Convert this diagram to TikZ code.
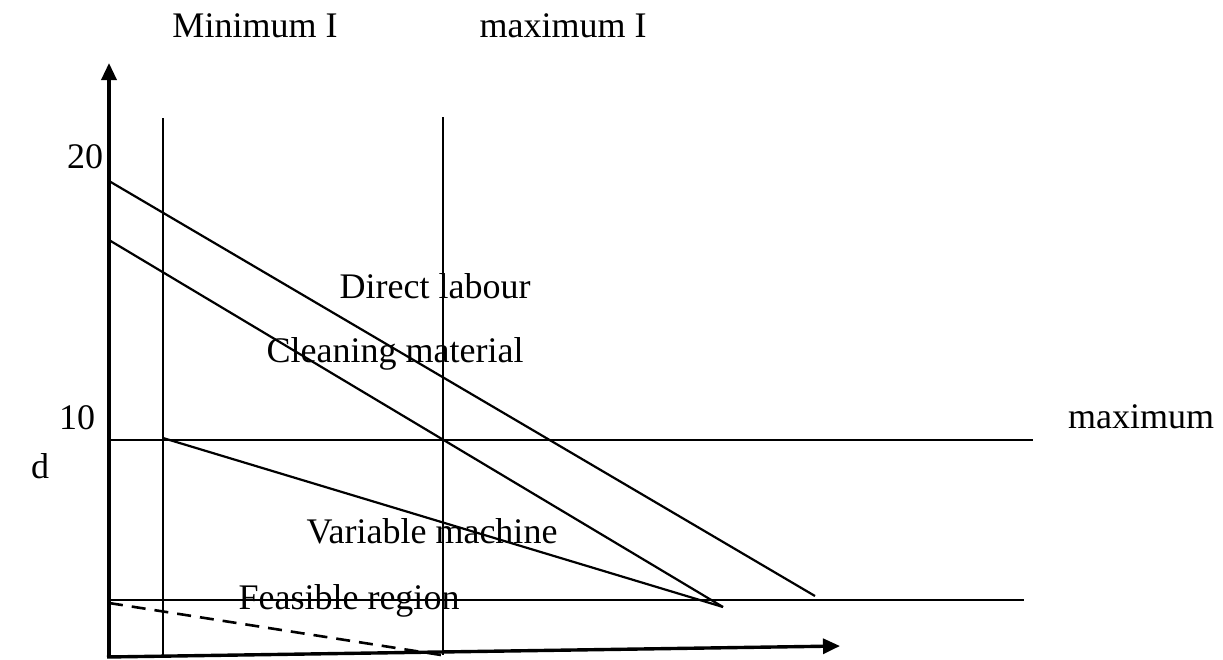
\documentclass[tikz,border=0pt]{standalone}
\usepackage{fontspec}
\setmainfont{Liberation Serif}
\usetikzlibrary{arrows.meta}
\tikzset{
  lbl/.style={font=\fontsize{36}{40}\selectfont,anchor=base,inner sep=0pt},
  axis/.style={line width=3.4pt,-{Triangle[length=17pt,width=15pt]}},
  constr/.style={line width=2.2pt},
}
\begin{document}
\begin{tikzpicture}[x=1pt,y=-1pt]
\useasboundingbox (0,0) rectangle (1223,659);
% axes
\coordinate (O) at (109,657);
\coordinate (ytop) at (109,63);
\coordinate (xstart) at (107,657);
\coordinate (xend) at (840,646);
\draw[axis] (O) -- (ytop);
\draw[axis] (xstart) -- (xend);
% limits on I
\coordinate (minTop) at (163,118);
\coordinate (minBot) at (163,655);
\coordinate (maxTop) at (443,117);
\coordinate (maxBot) at (443,655);
\draw[constr] (minTop) -- (minBot);
\draw[constr] (maxTop) -- (maxBot);
% limits on d
\coordinate (tenL) at (109,440);
\coordinate (tenR) at (1033,440);
\coordinate (lowL) at (109,600);
\coordinate (lowR) at (1024,600);
\draw[constr] (tenL) -- (tenR);
\draw[constr] (lowL) -- (lowR);
% resource lines
\coordinate (dlA) at (109,181);
\coordinate (dlB) at (815,596);
\coordinate (cmA) at (109,240);
\coordinate (cmB) at (723,607);
\coordinate (vmA) at (163,438);
\draw[constr] (dlA) -- (dlB);
\draw[constr] (cmA) -- (cmB);
\draw[constr] (vmA) -- (cmB);
\coordinate (feasA) at (109,603);
\coordinate (feasB) at (441,655);
\draw[constr,line width=2.6pt,dash pattern=on 14pt off 9pt] (feasA) -- (feasB);
% labels
\node[lbl] (minI) at (255,37) {Minimum I};
\node[lbl] (maxI) at (563,37) {maximum I};
\node[lbl] (twenty) at (85,168) {20};
\node[lbl] (ten) at (77,429) {10};
\node[lbl] (dlab) at (40,478) {d};
\node[lbl] (maxd) at (1141,428) {maximum};
\node[lbl] (direct) at (435,298) {Direct labour};
\node[lbl] (clean) at (395,362) {Cleaning material};
\node[lbl] (vmach) at (432,543) {Variable machine};
\node[lbl] (feas) at (349,609) {Feasible region};
\end{tikzpicture}
\end{document}
